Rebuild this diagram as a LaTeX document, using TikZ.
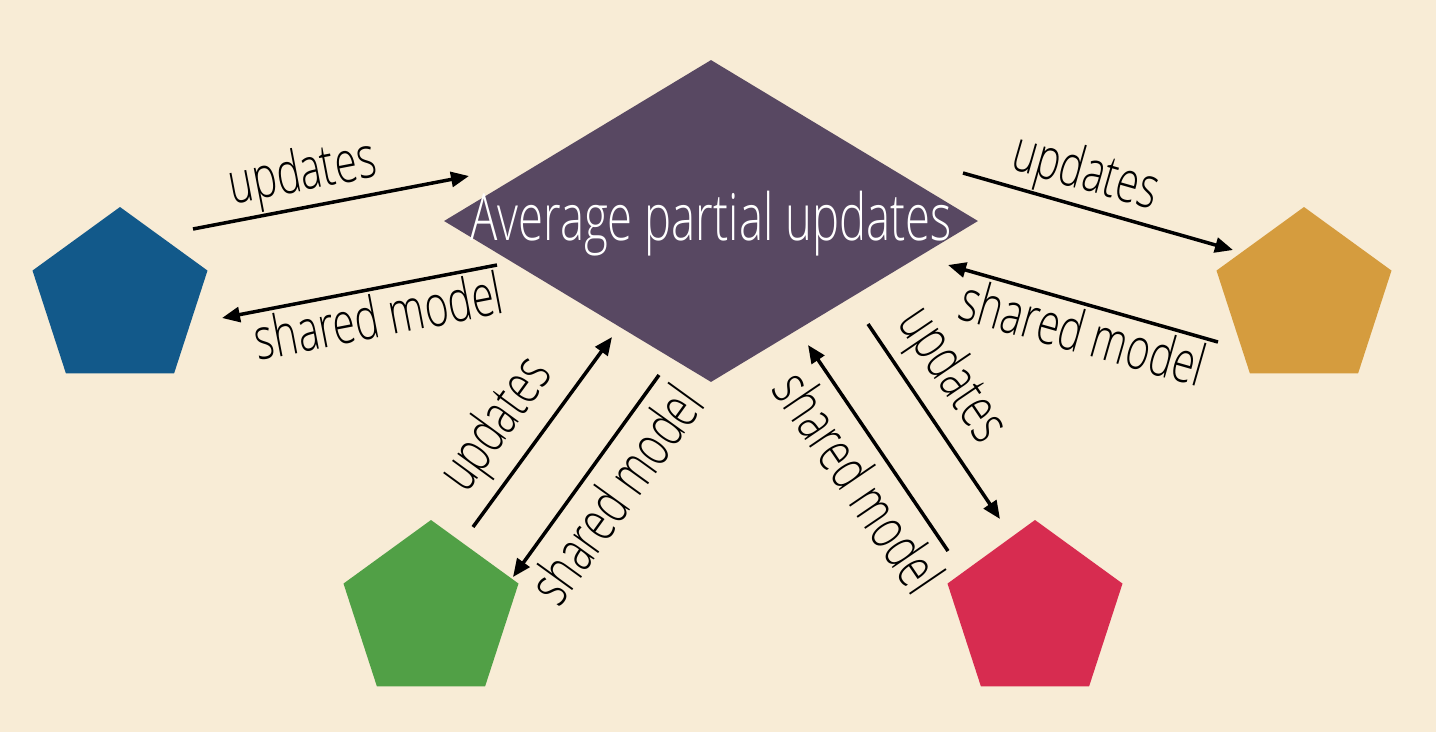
\documentclass[tikz,border=0pt]{standalone}
\usepackage{fontspec}
\setmainfont{Open Sans}[UprightFont=* Light, FakeStretch=0.7]
\usetikzlibrary{shapes.geometric,arrows.meta}
\definecolor{bgcream}{HTML}{F8ECD6}
\definecolor{hubpurple}{HTML}{584862}
\definecolor{cblue}{HTML}{12598A}
\definecolor{corange}{HTML}{D59C3E}
\definecolor{cgreen}{HTML}{51A046}
\definecolor{cred}{HTML}{D72C50}
\tikzset{
  client/.style={regular polygon, regular polygon sides=5, minimum size=184pt, inner sep=0pt},
  flow/.style={line width=3.5pt, -{Triangle[length=18pt,width=15pt]}},
  msg/.style={font=\fontsize{58}{58}\selectfont, sloped, inner sep=3pt},
}
\begin{document}
\begin{tikzpicture}[x=1pt,y=-1pt]
  \fill[bgcream] (0,0) rectangle (1436,732);
  \useasboundingbox (0,0) rectangle (1436,732);
  % hub and clients
  \node[diamond, fill=hubpurple, minimum width=534pt, minimum height=322pt, inner sep=0pt] (hub) at (711,221) {};
  \node[text=white, font=\fontsize{65}{65}\selectfont] (hubtext) at (711,224) {Average partial updates};
  \node[client, fill=cblue] (blue) at (120,299) {};
  \node[client, fill=corange] (orange) at (1304,299) {};
  \node[client, fill=cgreen] (green) at (431,612) {};
  \node[client, fill=cred] (red) at (1035,612) {};
  % arrow ends
  \coordinate (b1) at (193,229);  \coordinate (b2) at (469,176);
  \coordinate (b3) at (497,265);  \coordinate (b4) at (222,318);
  \coordinate (o1) at (963,173);  \coordinate (o2) at (1233,250);
  \coordinate (o3) at (1218,342); \coordinate (o4) at (948,265);
  \coordinate (g1) at (473,527);  \coordinate (g2) at (612,337);
  \coordinate (g3) at (659,375);  \coordinate (g4) at (513,577);
  \coordinate (r1) at (948,551);  \coordinate (r2) at (808,345);
  \coordinate (r3) at (868,324);  \coordinate (r4) at (1000,519);
  % messages
  \draw[flow] (b1) -- node[msg, above, pos=0.42, inner sep=1pt] {updates} (b2);
  \draw[flow] (b3) -- node[msg, below, pos=0.45] {shared model} (b4);
  \draw[flow] (o1) -- node[msg, above, pos=0.42, inner sep=1pt] {updates} (o2);
  \draw[flow] (o3) -- node[msg, below, pos=0.47] {shared model} (o4);
  \draw[flow] (g1) -- node[msg, above, pos=0.41, inner sep=9pt] {updates} (g2);
  \draw[flow] (g3) -- node[msg, below, pos=0.49, inner sep=10pt] {shared model} (g4);
  \draw[flow] (r1) -- node[msg, below, pos=0.43, inner sep=10pt] {shared model} (r2);
  \draw[flow] (r3) -- node[msg, above, pos=0.38, inner sep=9pt] {updates} (r4);
\end{tikzpicture}
\end{document}
